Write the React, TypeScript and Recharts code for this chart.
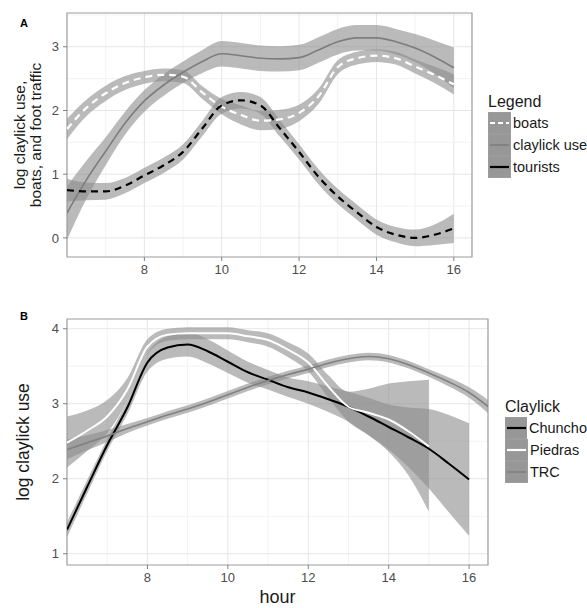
import React from 'react';
import {
  ComposedChart,
  Line,
  Area,
  XAxis,
  YAxis,
  CartesianGrid,
  ReferenceArea,
  Legend,
  Label,
} from 'recharts';

const FONT = '"Liberation Sans", Arial, Helvetica, sans-serif';

// ---- panel A: claylick use, boats and tourists by hour ----
const hoursA = [6, 6.5, 7, 7.5, 8, 8.5, 9, 9.5, 10, 10.5, 11, 11.5, 12, 12.5, 13, 13.5, 14, 14.5, 15, 15.5, 16];

const claylickUse = [0.39, 0.91, 1.36, 1.8, 2.15, 2.4, 2.6, 2.77, 2.89, 2.86, 2.82, 2.81, 2.83, 2.95, 3.08, 3.14, 3.14, 3.08, 2.98, 2.84, 2.67];
const claylickLo = [-0.03, 0.61, 1.14, 1.62, 1.98, 2.23, 2.43, 2.59, 2.69, 2.66, 2.62, 2.61, 2.63, 2.75, 2.88, 2.94, 2.94, 2.88, 2.76, 2.58, 2.35];
const claylickHi = [0.81, 1.21, 1.58, 1.98, 2.32, 2.57, 2.77, 2.95, 3.09, 3.06, 3.02, 3.01, 3.03, 3.15, 3.28, 3.34, 3.34, 3.28, 3.2, 3.1, 2.99];

const boats = [1.71, 2.04, 2.27, 2.43, 2.52, 2.56, 2.53, 2.28, 2.06, 1.93, 1.84, 1.86, 1.96, 2.22, 2.68, 2.82, 2.86, 2.82, 2.69, 2.56, 2.41];
const boatsLo = [1.55, 1.91, 2.15, 2.32, 2.42, 2.46, 2.43, 2.18, 1.94, 1.78, 1.69, 1.71, 1.83, 2.1, 2.57, 2.72, 2.76, 2.72, 2.58, 2.43, 2.25];
const boatsHi = [1.87, 2.17, 2.39, 2.54, 2.62, 2.66, 2.63, 2.38, 2.18, 2.08, 1.99, 2.01, 2.09, 2.34, 2.79, 2.92, 2.96, 2.92, 2.8, 2.69, 2.57];

const tourists = [0.75, 0.73, 0.73, 0.82, 0.98, 1.14, 1.35, 1.72, 2.08, 2.16, 2.08, 1.72, 1.35, 0.96, 0.65, 0.4, 0.17, 0.05, 0.0, 0.05, 0.15];
const touristsLo = [0.57, 0.59, 0.6, 0.7, 0.86, 1.02, 1.23, 1.6, 1.95, 2.03, 1.95, 1.59, 1.23, 0.84, 0.53, 0.28, 0.05, -0.07, -0.13, -0.11, -0.08];
const touristsHi = [0.93, 0.87, 0.86, 0.94, 1.1, 1.26, 1.47, 1.84, 2.21, 2.29, 2.21, 1.85, 1.47, 1.08, 0.77, 0.52, 0.29, 0.17, 0.13, 0.21, 0.38];

// ---- panel B: claylick use per claylick ----
const hoursB = [6, 6.5, 7, 7.5, 8, 8.5, 9, 9.5, 10, 10.5, 11, 11.5, 12, 12.5, 13, 13.5, 14, 14.5, 15, 15.5, 16, 16.5];

const chuncho = [1.32, 1.89, 2.45, 2.95, 3.55, 3.75, 3.79, 3.7, 3.56, 3.42, 3.32, 3.22, 3.15, 3.06, 2.96, 2.83, 2.69, 2.55, 2.4, 2.2, 1.99, null];
const chunchoLo = [1.22, 1.8, 2.37, 2.86, 3.43, 3.6, 3.63, 3.54, 3.41, 3.28, 3.19, 3.09, 3.0, 2.89, 2.76, 2.58, 2.39, 2.15, 1.87, 1.55, 1.24, null];
const chunchoHi = [1.42, 1.98, 2.53, 3.04, 3.67, 3.9, 3.95, 3.86, 3.71, 3.56, 3.45, 3.35, 3.3, 3.23, 3.16, 3.08, 2.99, 2.95, 2.93, 2.85, 2.74, null];

const piedras = [2.48, 2.64, 2.83, 3.19, 3.76, 3.92, 3.94, 3.94, 3.94, 3.9, 3.85, 3.72, 3.55, 3.23, 2.96, 2.88, 2.79, 2.63, 2.43, null, null, null];
const piedrasLo = [2.15, 2.37, 2.61, 3.04, 3.66, 3.84, 3.86, 3.86, 3.86, 3.82, 3.76, 3.62, 3.43, 3.08, 2.76, 2.58, 2.36, 2.04, 1.56, null, null, null];
const piedrasHi = [2.83, 2.91, 3.05, 3.34, 3.86, 4.0, 4.02, 4.02, 4.02, 3.98, 3.94, 3.82, 3.67, 3.38, 3.16, 3.2, 3.27, 3.3, 3.32, null, null, null];

const trc = [2.39, 2.48, 2.57, 2.67, 2.76, 2.85, 2.93, 3.02, 3.12, 3.22, 3.31, 3.39, 3.46, 3.54, 3.6, 3.63, 3.6, 3.52, 3.41, 3.29, 3.15, 2.95];
const trcLo = [2.26, 2.38, 2.49, 2.61, 2.71, 2.8, 2.88, 2.97, 3.07, 3.17, 3.26, 3.34, 3.41, 3.49, 3.55, 3.58, 3.55, 3.47, 3.36, 3.23, 3.08, 2.86];
const trcHi = [2.52, 2.58, 2.65, 2.73, 2.81, 2.9, 2.98, 3.07, 3.17, 3.27, 3.36, 3.44, 3.51, 3.59, 3.65, 3.68, 3.65, 3.57, 3.46, 3.35, 3.22, 3.04];

const xTicks = [8, 10, 12, 14, 16];
const xMinor = [7, 9, 11, 13, 15];
const yTicksA = [0, 1, 2, 3];
const yMinorA = [0.5, 1.5, 2.5, 3.5];
const yTicksB = [1, 2, 3, 4];
const yMinorB = [1.5, 2.5, 3.5];

const xDomain = [6, 16.47];
const yDomainA = [-0.3, 3.53];
const yDomainB = [0.85, 4.13];

const yTitleA = ['log claylick use,', 'boats, and foot traffic'];
const yTitleB = 'log claylick use';
const xTitle = 'hour';

const legendA = [
  { name: 'boats', color: '#ffffff', width: 2.2, dash: '5 3' },
  { name: 'claylick use', color: '#7d7d7d', width: 1.6, dash: undefined },
  { name: 'tourists', color: '#000000', width: 2.2, dash: undefined },
];
const legendB = [
  { name: 'Chuncho', color: '#000000', width: 2.2, dash: undefined },
  { name: 'Piedras', color: '#ffffff', width: 2.2, dash: undefined },
  { name: 'TRC', color: '#808080', width: 1.6, dash: undefined },
];

const band = (lo: (number | null)[], hi: (number | null)[], i: number) =>
  lo[i] == null || hi[i] == null ? null : [lo[i], hi[i]];

const rowsA = hoursA.map((hour, i) => ({
  hour,
  claylick: claylickUse[i],
  claylickBand: band(claylickLo, claylickHi, i),
  boats: boats[i],
  boatsBand: band(boatsLo, boatsHi, i),
  tourists: tourists[i],
  touristsBand: band(touristsLo, touristsHi, i),
}));

const rowsB = hoursB.map((hour, i) => ({
  hour,
  chuncho: chuncho[i],
  chunchoBand: band(chunchoLo, chunchoHi, i),
  piedras: piedras[i],
  piedrasBand: band(piedrasLo, piedrasHi, i),
  trc: trc[i],
  trcBand: band(trcLo, trcHi, i),
}));

const RIBBON = '#8c8c8c';
const tickStyle = { fill: '#4d4d4d', fontSize: 13, fontFamily: FONT };

function LegendBox({ title, items }: { title: string; items: typeof legendA }) {
  return (
    <div style={{ fontFamily: FONT, color: '#1a1a1a' }}>
      <div style={{ fontSize: 16, lineHeight: '20px', height: 20 }}>{title}</div>
      {items.map((it) => (
        <div key={it.name} style={{ display: 'flex', alignItems: 'center', height: 22 }}>
          <svg width={23} height={22} style={{ display: 'block' }}>
            <rect x={0} y={0} width={23} height={22} fill="#979797" stroke="#a9a9a9" strokeWidth={0.6} />
            <line x1={2} x2={21} y1={11} y2={11} stroke={it.color} strokeWidth={it.width} strokeDasharray={it.dash} />
          </svg>
          <span style={{ fontSize: 14.5, marginLeft: 2, whiteSpace: 'nowrap' }}>{it.name}</span>
        </div>
      ))}
    </div>
  );
}

function renderTitleA(props: any) {
  const vb = props.viewBox || { x: 0, y: 13, width: 67, height: 244 };
  const cy = vb.y + vb.height / 2;
  return (
    <g>
      {yTitleA.map((t, i) => {
        const x = vb.x + 19 + i * 16;
        return (
          <text key={t} x={x} y={cy} transform={`rotate(-90, ${x}, ${cy})`} textAnchor="middle"
            dominantBaseline="central" fontSize={15.5} fontFamily={FONT} fill="#1a1a1a">
            {t}
          </text>
        );
      })}
    </g>
  );
}

function renderTitleB(props: any) {
  const vb = props.viewBox || { x: 0, y: 19, width: 67, height: 246 };
  const cy = vb.y + vb.height / 2;
  const x = vb.x + 23;
  return (
    <text x={x} y={cy} transform={`rotate(-90, ${x}, ${cy})`} textAnchor="middle"
      dominantBaseline="central" fontSize={17.5} fontFamily={FONT} fill="#1a1a1a">
      {yTitleB}
    </text>
  );
}

export default function App() {
  return (
    <div style={{ position: 'absolute', left: 0, top: 0, width: 587, height: 608, background: '#fff', fontFamily: FONT }}>
      <div style={{ position: 'absolute', left: 20, top: 17, fontSize: 11, fontWeight: 700 }}>A</div>
      <div style={{ position: 'absolute', left: 20, top: 310, fontSize: 11, fontWeight: 700 }}>B</div>

      <div style={{ position: 'absolute', left: 0, top: 0 }}>
        <ComposedChart width={587} height={290} data={rowsA} margin={{ top: 13, right: 115, bottom: 0, left: 0 }}>
          <CartesianGrid stroke="#f3f3f3" strokeWidth={1} verticalValues={xMinor} horizontalValues={yMinorA} />
          <CartesianGrid stroke="#e6e6e6" strokeWidth={1} verticalValues={xTicks} horizontalValues={yTicksA} />
          <XAxis dataKey="hour" type="number" domain={xDomain} ticks={xTicks} allowDataOverflow
            axisLine={false} tickLine={{ stroke: '#808080' }} tickSize={4} tickMargin={4} tick={tickStyle} height={33} />
          <YAxis type="number" domain={yDomainA} ticks={yTicksA} allowDataOverflow width={67}
            axisLine={false} tickLine={{ stroke: '#808080' }} tickSize={4} tickMargin={4} tick={tickStyle}>
            <Label content={renderTitleA} />
          </YAxis>

          <Area dataKey="boatsBand" type="monotone" stroke="none" fill={RIBBON} fillOpacity={0.6} isAnimationActive={false} />
          <Line dataKey="boats" type="monotone" stroke="#ffffff" strokeWidth={2.2} strokeDasharray="7 5" dot={false} activeDot={false} isAnimationActive={false} />
          <Area dataKey="claylickBand" type="monotone" stroke="none" fill={RIBBON} fillOpacity={0.6} isAnimationActive={false} />
          <Line dataKey="claylick" type="monotone" stroke="#7d7d7d" strokeWidth={1.6} dot={false} activeDot={false} isAnimationActive={false} />
          <Area dataKey="touristsBand" type="monotone" stroke="none" fill={RIBBON} fillOpacity={0.6} isAnimationActive={false} />
          <Line dataKey="tourists" type="monotone" stroke="#000000" strokeWidth={2.2} strokeDasharray="7 5" dot={false} activeDot={false} isAnimationActive={false} />

          <ReferenceArea x1={xDomain[0]} x2={xDomain[1]} y1={yDomainA[0]} y2={yDomainA[1]} fill="none" stroke="#9b9b9b" strokeWidth={1.2} ifOverflow="visible" />
          <Legend layout="vertical" align="center" verticalAlign="middle"
            wrapperStyle={{ left: 488, top: 92, width: 100 }}
            content={() => <LegendBox title="Legend" items={legendA} />} />
        </ComposedChart>
      </div>

      <div style={{ position: 'absolute', left: 0, top: 300 }}>
        <ComposedChart width={587} height={308} data={rowsB} margin={{ top: 19, right: 99, bottom: 0, left: 0 }}>
          <CartesianGrid stroke="#f3f3f3" strokeWidth={1} verticalValues={xMinor} horizontalValues={yMinorB} />
          <CartesianGrid stroke="#e6e6e6" strokeWidth={1} verticalValues={xTicks} horizontalValues={yTicksB} />
          <XAxis dataKey="hour" type="number" domain={xDomain} ticks={xTicks} allowDataOverflow
            axisLine={false} tickLine={{ stroke: '#808080' }} tickSize={4} tickMargin={4} tick={tickStyle} height={43}>
            <Label value={xTitle} position="insideBottom" offset={5} style={{ fontSize: 18, fontFamily: FONT, fill: '#1a1a1a' }} />
          </XAxis>
          <YAxis type="number" domain={yDomainB} ticks={yTicksB} allowDataOverflow width={67}
            axisLine={false} tickLine={{ stroke: '#808080' }} tickSize={4} tickMargin={4} tick={tickStyle}>
            <Label content={renderTitleB} />
          </YAxis>

          <Area dataKey="chunchoBand" type="monotone" stroke="none" fill={RIBBON} fillOpacity={0.6} isAnimationActive={false} />
          <Line dataKey="chuncho" type="monotone" stroke="#000000" strokeWidth={2} dot={false} activeDot={false} isAnimationActive={false} />
          <Area dataKey="piedrasBand" type="monotone" stroke="none" fill={RIBBON} fillOpacity={0.6} isAnimationActive={false} />
          <Line dataKey="piedras" type="monotone" stroke="#ffffff" strokeWidth={2} dot={false} activeDot={false} isAnimationActive={false} />
          <Area dataKey="trcBand" type="monotone" stroke="none" fill={RIBBON} fillOpacity={0.6} isAnimationActive={false} />
          <Line dataKey="trc" type="monotone" stroke="#808080" strokeWidth={1.6} dot={false} activeDot={false} isAnimationActive={false} />

          <ReferenceArea x1={xDomain[0]} x2={xDomain[1]} y1={yDomainB[0]} y2={yDomainB[1]} fill="none" stroke="#9b9b9b" strokeWidth={1.2} ifOverflow="visible" />
          <Legend layout="vertical" align="center" verticalAlign="middle"
            wrapperStyle={{ left: 505, top: 97, width: 82 }}
            content={() => <LegendBox title="Claylick" items={legendB} />} />
        </ComposedChart>
      </div>
    </div>
  );
}
